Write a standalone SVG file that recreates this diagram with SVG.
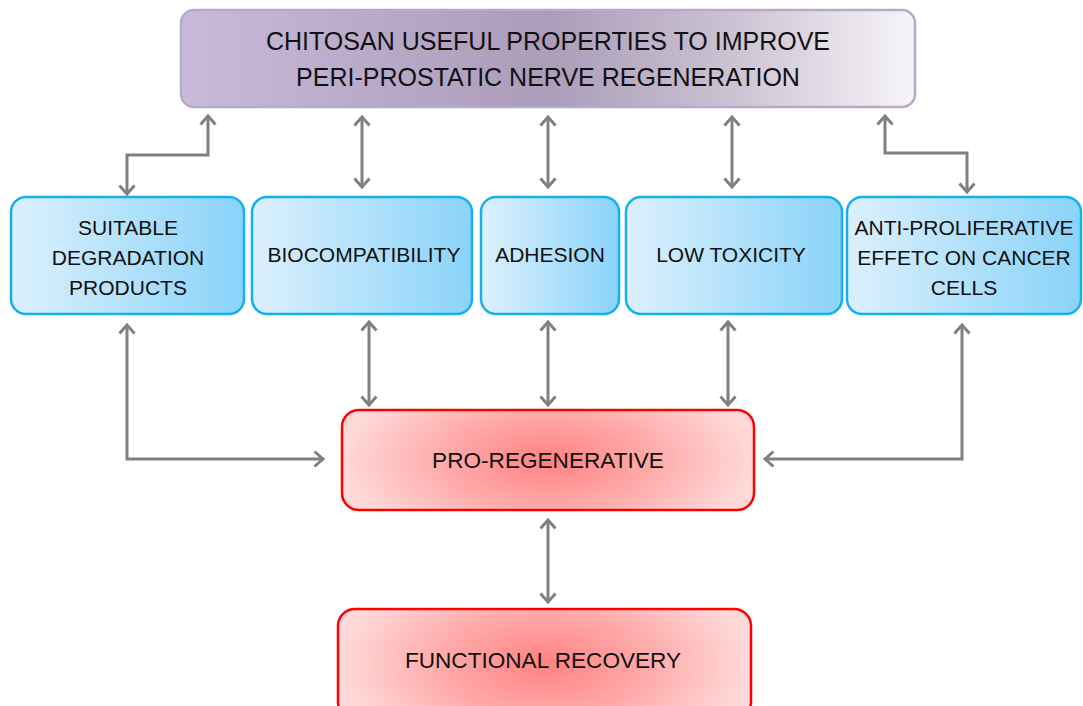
<svg xmlns="http://www.w3.org/2000/svg" width="1083" height="706" viewBox="0 0 1083 706">
  <defs>
    <linearGradient id="gPurple" x1="0" y1="0" x2="1" y2="0">
      <stop offset="0" stop-color="#c9b9db"/>
      <stop offset="0.5" stop-color="#ab9cb9"/>
      <stop offset="0.75" stop-color="#cbc2d3"/>
      <stop offset="1" stop-color="#f7f5f8"/>
    </linearGradient>
    <linearGradient id="gBlue" x1="0" y1="0" x2="1" y2="0">
      <stop offset="0" stop-color="#dcf0fd"/>
      <stop offset="1" stop-color="#8ad3f9"/>
    </linearGradient>
    <radialGradient id="gRed" cx="0.5" cy="0.5" r="0.5" gradientTransform="translate(0.5,0.5) scale(1,1.9) translate(-0.5,-0.5)">
      <stop offset="0" stop-color="#ff8282"/>
      <stop offset="0.5" stop-color="#ffaaaa"/>
      <stop offset="1" stop-color="#ffd9d9"/>
    </radialGradient>
    <marker id="arr" viewBox="-12 -10 14 20" refX="0" refY="0" markerWidth="14" markerHeight="20" markerUnits="userSpaceOnUse" orient="auto-start-reverse">
      <path d="M-8.5,-7.5 L0,0 L-8.5,7.5" fill="none" stroke="#808080" stroke-width="3"/>
    </marker>
  </defs>
  <style>
    .blue { fill: url(#gBlue); stroke: #14b1ec; stroke-width: 2.5; }
    .red { fill: url(#gRed); stroke: #ff0000; stroke-width: 2.5; }
    .top { fill: url(#gPurple); stroke: #b8a8cc; stroke-width: 2.5; }
    text { font-family: "Liberation Sans", Arial, sans-serif; fill: #111; text-anchor: middle; }
    .t21 { font-size: 21px; }
    .t22 { font-size: 22.6px; }
    .t25 { font-size: 25px; }
    .conn { fill: none; stroke: #808080; stroke-width: 3; marker-start: url(#arr); marker-end: url(#arr); }
  </style>

  <g id="title">
    <rect class="top" x="181" y="10" width="734" height="97" rx="13"/>
    <text class="t25" x="548" y="50">CHITOSAN USEFUL PROPERTIES TO IMPROVE</text>
    <text class="t25" x="548" y="86">PERI-PROSTATIC NERVE REGENERATION</text>
  </g>

  <g id="suitable">
    <rect class="blue" x="11" y="197" width="233" height="117" rx="15"/>
    <text class="t21" x="128" y="235">SUITABLE</text>
    <text class="t21" x="128" y="265">DEGRADATION</text>
    <text class="t21" x="128" y="295">PRODUCTS</text>
  </g>

  <g id="biocompat">
    <rect class="blue" x="252" y="197" width="220" height="117" rx="15"/>
    <text class="t21" x="364" y="262">BIOCOMPATIBILITY</text>
  </g>

  <g id="adhesion">
    <rect class="blue" x="481" y="197" width="138" height="117" rx="15"/>
    <text class="t21" x="550" y="262">ADHESION</text>
  </g>

  <g id="lowtox">
    <rect class="blue" x="626" y="197" width="216" height="117" rx="15"/>
    <text class="t21" x="731" y="262">LOW TOXICITY</text>
  </g>

  <g id="antiprolif">
    <rect class="blue" x="847" y="197" width="234" height="117" rx="15"/>
    <text class="t21" x="964" y="235">ANTI-PROLIFERATIVE</text>
    <text class="t21" x="964" y="265">EFFETC ON CANCER</text>
    <text class="t21" x="964" y="295">CELLS</text>
  </g>

  <g id="proregen">
    <rect class="red" x="342" y="410" width="412" height="100" rx="17"/>
    <text class="t22" x="548" y="468">PRO-REGENERATIVE</text>
  </g>

  <g id="recovery">
    <rect class="red" x="338" y="609" width="413" height="110" rx="17"/>
    <text class="t22" x="543" y="668">FUNCTIONAL RECOVERY</text>
  </g>

  <g id="connectors">
    <path class="conn" d="M208,116 V155 H127 V194"/>
    <path class="conn" d="M362,117 V187"/>
    <path class="conn" d="M548,117 V187"/>
    <path class="conn" d="M732,117 V187"/>
    <path class="conn" d="M885,116 V153 H967 V192"/>
    <path class="conn" d="M127,325 V459 H323"/>
    <path class="conn" d="M369,322 V405"/>
    <path class="conn" d="M548,322 V405"/>
    <path class="conn" d="M728,322 V405"/>
    <path class="conn" d="M962,325 V459 H765"/>
    <path class="conn" d="M548,520 V602"/>
  </g>
</svg>
